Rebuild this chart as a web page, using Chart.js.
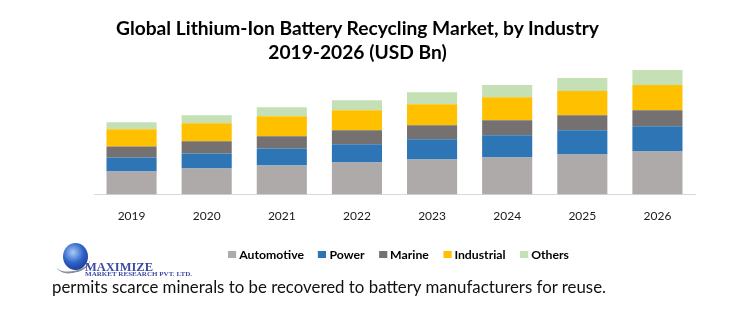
<!DOCTYPE html>
<html lang="en">
<head>
  <meta charset="UTF-8" />
  <title>Global Lithium-Ion Battery Recycling Market, by Industry</title>
  <script src="https://cdn.jsdelivr.net/npm/chart.js"></script>
  <style>
    html, body { margin: 0; padding: 0; background: #fff; }
    #wrap { position: relative; width: 731px; height: 334px; overflow: hidden; }
    #chartBox { position: absolute; left: 0; top: 0; width: 731px; height: 334px; }
    #title {
      position: absolute; left: 0; top: 16px; width: 715px; text-align: center;
      font: bold 19.2px Lato, sans-serif; line-height: 24px; color: #000;
    }
    /* leyenda */
    #legend {
      position: absolute; left: 228px; top: 246px; height: 16px; display: flex; align-items: center;
      font: bold 12px Lato, sans-serif; color: #000; white-space: nowrap; transform-origin: left center;
    }
    #legend .item { display: flex; align-items: center; margin-right: 14px; }
    #legend .item:last-child { margin-right: 0; }
    #legend .box { width: 8px; height: 7px; margin-right: 3px; }
    /* logo */
    #logo { position: absolute; left: 56px; top: 243px; width: 140px; height: 36px; }
    #swoosh {
      position: absolute; left: 0; top: 10px; width: 34px; height: 18px; border-radius: 50%;
      border-bottom: 2px solid #8a8fa0; transform: rotate(-12deg);
    }
    #globe {
      position: absolute; left: 7px; top: 0; width: 25px; height: 27px; border-radius: 50%;
      background: radial-gradient(circle at 40% 35%, #a9ccf7 0%, #2f63c9 45%, #0f2478 100%);
    }
    #logo .big {
      position: absolute; left: 29px; top: 16px; font: bold 13px "Liberation Serif", serif;
      color: #3c4aa6; white-space: nowrap; transform-origin: left top;
    }
    #logo .small {
      position: absolute; left: 29px; top: 28px; font: bold 6px "Liberation Serif", serif;
      color: #3c4aa6; white-space: nowrap; transform-origin: left top;
    }
    #footer {
      position: absolute; left: 52px; top: 276px; font: 17px Lato, sans-serif;
      color: #111; white-space: nowrap; transform-origin: left top;
    }
  </style>
</head>
<body>
  <div id="wrap">
    <div id="chartBox"><canvas id="chart"></canvas></div>
    <div id="title">Global Lithium-Ion Battery Recycling Market, by Industry<br>2019-2026 (USD Bn)</div>
    <div id="legend"></div>
    <div id="logo">
      <div id="swoosh"></div>
      <div id="globe"></div>
      <div class="big" id="logoBig">MAXIMIZE</div>
      <div class="small" id="logoSmall">MARKET RESEARCH PVT. LTD.</div>
    </div>
    <div id="footer">permits scarce minerals to be recovered to battery manufacturers for reuse.</div>
  </div>

  <script>
    // Valores (relativos)
    const years = ['2019', '2020', '2021', '2022', '2023', '2024', '2025', '2026'];
    const automotive = [2.3, 2.6, 2.9, 3.2, 3.5, 3.7, 4.0, 4.3];
    const power = [1.4, 1.5, 1.7, 1.8, 2.0, 2.2, 2.4, 2.5];
    const marine = [1.1, 1.2, 1.2, 1.4, 1.4, 1.5, 1.5, 1.6];
    const industrial = [1.7, 1.8, 2.0, 2.0, 2.1, 2.3, 2.4, 2.5];
    const others = [0.7, 0.8, 0.9, 1.0, 1.2, 1.2, 1.3, 1.5];

    const series = [
      { label: 'Automotive', data: automotive, color: '#AEAAAA' },
      { label: 'Power', data: power, color: '#2E75B6' },
      { label: 'Marine', data: marine, color: '#767171' },
      { label: 'Industrial', data: industrial, color: '#FFC000' },
      { label: 'Others', data: others, color: '#C5E0B4' }
    ];

    const chart = new Chart(document.getElementById('chart'), {
      type: 'bar',
      data: {
        labels: years,
        datasets: series.map(s => ({
          label: s.label,
          data: s.data,
          backgroundColor: s.color,
          borderWidth: 0,
          categoryPercentage: 1,
          barPercentage: 0.667
        }))
      },
      options: {
        responsive: true,
        maintainAspectRatio: false,
        animation: false,
        layout: { padding: { left: 94, right: 36, top: 64, bottom: 105 } },
        scales: {
          x: {
            stacked: true,
            grid: { display: false },
            border: { display: true, color: '#D9D9D9', width: 1 },
            ticks: { color: '#1a1a1a', padding: 6, font: { family: 'Lato', size: 12 } }
          },
          y: {
            stacked: true,
            display: false,
            min: 0,
            max: 13.0
          }
        },
        plugins: {
          tooltip: { enabled: false },
          legend: { display: false }
        }
      }
    });

    // Leyenda HTML a partir de los datasets del grafico
    const legendEl = document.getElementById('legend');
    chart.data.datasets.forEach(ds => {
      const item = document.createElement('div');
      item.className = 'item';
      item.innerHTML = `<span class="box" style="background:${ds.backgroundColor}"></span>${ds.label}`;
      legendEl.appendChild(item);
    });

    // El texto original usa Calibri (mas estrecha): se ajusta al ancho de la imagen
    function fitWidth(el, target) {
      const w = el.getBoundingClientRect().width;
      if (w > 0) el.style.transform = `scaleX(${target / w})`;
    }
    fitWidth(legendEl, 341);
    fitWidth(document.getElementById('footer'), 554);
    fitWidth(document.getElementById('logoBig'), 68);
    fitWidth(document.getElementById('logoSmall'), 107);
  </script>
</body>
</html>
